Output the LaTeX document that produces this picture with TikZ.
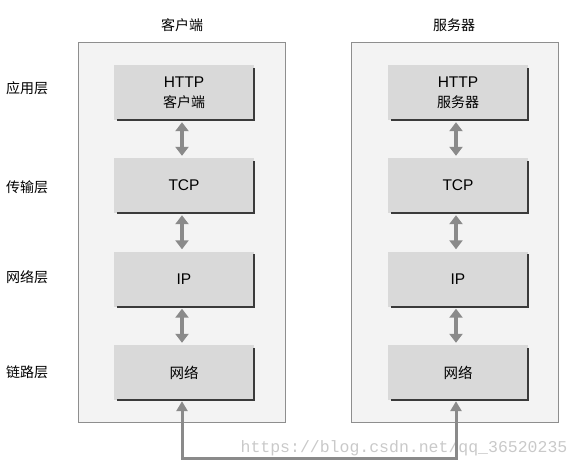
\documentclass[tikz,border=0pt]{standalone}
\usepackage{fontspec}
\setmainfont{Liberation Sans}
\newfontfamily\cjk{Noto Sans CJK SC}
\newfontfamily\wmfont{Liberation Mono}
\usetikzlibrary{arrows.meta}
\definecolor{framegray}{HTML}{8E8E8E}
\definecolor{hostfill}{HTML}{F3F3F3}
\definecolor{layerfill}{HTML}{D9D9D9}
\definecolor{arrowgray}{HTML}{8A8A8A}
\definecolor{shadowgray}{HTML}{3A3A3A}
\definecolor{markgray}{HTML}{C9C9C9}

\begin{document}
\begin{tikzpicture}[x=1pt,y=-1pt,  % pixel units, y downwards
    host/.style={
      draw=framegray,
      fill=hostfill,
      minimum width=207pt,
      minimum height=380pt,
      inner sep=0pt
    },
    layer/.style={
      fill=layerfill,
      minimum width=140pt,
      minimum height=55pt,
      font=\fontsize{15.5}{17}\selectfont,
      align=center,
      inner sep=0pt
    },
    title/.style={font=\cjk\fontsize{14}{16}\selectfont},
    link/.style={
      draw=arrowgray,
      line width=4.5pt,
      {Triangle[width=13pt,length=9pt]}-{Triangle[width=13pt,length=9pt]},
      shorten >=2pt, shorten <=2pt
    },
    wire/.style={
      draw=arrowgray,
      line width=3pt,
      {Triangle[width=11pt,length=10pt]}-{Triangle[width=11pt,length=10pt]},
      shorten >=1pt, shorten <=1pt
    }
  ]

    \useasboundingbox (0,0) rectangle (582,467);

    % Host frames
    \node[host] (client) at (182,232) {};
    \node[host] (server) at (455,232) {};
    \node[title] (clienttitle) at (182,25) {客户端};
    \node[title] (servertitle) at (454,25) {服务器};

    % Layer names on the left
    \foreach \n/\txt/\y in {1/应用层/88,2/传输层/187,3/网络层/277,4/链路层/372} {
      \node[title] (name\n) at (27,\y) {\txt};
    }

    % Client stack
    \node[layer] (c1) at (184,92.5) {HTTP\\[3pt]{\cjk\fontsize{14}{16}\selectfont 客户端}};
    \node[layer] (c2) at (184,185.5) {TCP};
    \node[layer] (c3) at (184,279) {IP};
    \node[layer] (c4) at (184,372.5) {\cjk\fontsize{14.5}{16}\selectfont 网络};

    % Server stack
    \node[layer] (s1) at (458,92.5) {HTTP\\[3pt]{\cjk\fontsize{14}{16}\selectfont 服务器}};
    \node[layer] (s2) at (458,185.5) {TCP};
    \node[layer] (s3) at (458,279) {IP};
    \node[layer] (s4) at (458,372.5) {\cjk\fontsize{14.5}{16}\selectfont 网络};

    % Shadow edges (right and bottom)
    \foreach \b in {c1,c2,c3,c4,s1,s2,s3,s4} {
      \draw[shadowgray,line width=2pt]
        ([yshift=-3pt]\b.north east) -- (\b.south east) -- ([xshift=3pt]\b.south west);
    }

    % Arrows between layers
    \foreach \a/\b in {c1/c2,c2/c3,c3/c4,s1/s2,s2/s3,s3/s4} {
      \draw[link] ([xshift=-2pt]\a.south) -- ([xshift=-2pt]\b.north);
    }

    % Watermark
    \node[font=\wmfont\fontsize{16.5}{18}\selectfont,text=markgray,inner sep=0pt]
      (mark) at (404,448) {https://blog.csdn.net/qq\_36520235};

    % Physical link
    \draw[wire] ([xshift=-2pt]c4.south) -- ++(0,58) -| ([xshift=-2pt]s4.south);

  \end{tikzpicture}
\end{document}
